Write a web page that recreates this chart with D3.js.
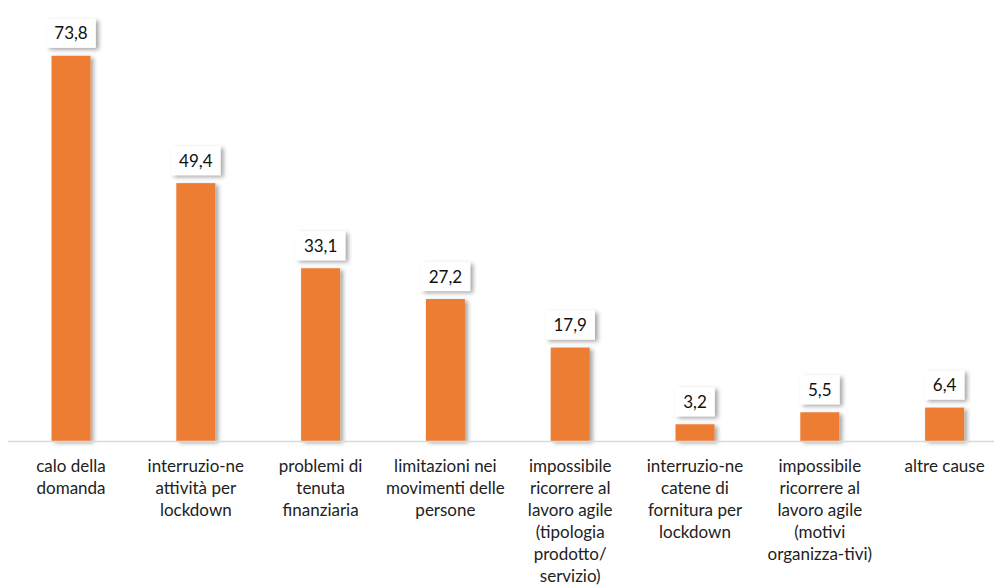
<!DOCTYPE html>
<html><head><meta charset="utf-8">
<script src="https://cdn.jsdelivr.net/npm/d3@7"></script>
<style>html,body{margin:0;padding:0;background:#fff}svg{display:block}</style>
</head><body><svg id="c" width="994" height="588"></svg>
<script>
const categories = [
  ["calo della","domanda"],
  ["interruzio-ne","attività per","lockdown"],
  ["problemi di","tenuta","finanziaria"],
  ["limitazioni nei","movimenti delle","persone"],
  ["impossibile","ricorrere al","lavoro agile","(tipologia","prodotto/","servizio)"],
  ["interruzio-ne","catene di","fornitura per","lockdown"],
  ["impossibile","ricorrere al","lavoro agile","(motivi","organizza-tivi)"],
  ["altre cause"]
];
const values = [73.8, 49.4, 33.1, 27.2, 17.9, 3.2, 5.5, 6.4];
const valueLabels = ["73,8","49,4","33,1","27,2","17,9","3,2","5,5","6,4"];

const svg = d3.select("#c");
const defs = svg.append("defs");
const f = defs.append("filter").attr("id","sh").attr("x","-30%").attr("y","-30%").attr("width","160%").attr("height","160%");
f.append("feDropShadow").attr("dx",3).attr("dy",2).attr("stdDeviation",2).attr("flood-color","#000").attr("flood-opacity",0.35);

const baseY = 441;
const idx = d3.range(values.length);
const x = d3.scaleBand().domain(idx).range([8.6, 1007]).paddingInner(0.6875).paddingOuter(0.34375);
const y = d3.scaleLinear().domain([0, 80]).range([baseY, baseY - 80*5.22]);

const font = "Lato, 'Open Sans', sans-serif";

svg.append("g").selectAll("rect").data(idx).join("rect")
  .attr("x", i => x(i)).attr("width", x.bandwidth())
  .attr("y", i => y(values[i])).attr("height", i => y(0) - y(values[i]))
  .attr("fill", "#ED7D31").attr("filter","url(#sh)");

svg.append("line").attr("x1",8).attr("x2",994).attr("y1",baseY+0.5).attr("y2",baseY+0.5)
  .attr("stroke","#d9d9d9").attr("stroke-width",1.5);

const lab = svg.append("g").selectAll("g").data(idx).join("g")
  .attr("transform", i => `translate(${x(i)+x.bandwidth()/2},${y(values[i]) - 8 - 14.5})`);
lab.each(function(i){
  const g = d3.select(this);
  const t = g.append("text").text(valueLabels[i]).attr("text-anchor","middle").attr("dy","0.36em")
    .attr("font-family",font).attr("font-size",17).attr("fill","#111");
  const w = t.node().getComputedTextLength() + 16;
  g.insert("rect","text").attr("x",-w/2).attr("y",-14.5).attr("width",w).attr("height",29)
    .attr("fill","#fff").attr("filter","url(#sh)");
});

const cat = svg.append("g").selectAll("text").data(idx).join("text")
  .attr("text-anchor","middle").attr("font-family",font).attr("font-size",17).attr("fill","#222")
  .attr("transform", i => `translate(${x(i)+x.bandwidth()/2},472)`);
cat.each(function(i){
  d3.select(this).selectAll("tspan").data(categories[i]).join("tspan")
    .attr("x",0).attr("y",(d,k)=>k*22).text(d=>d);
});
</script></body></html>
